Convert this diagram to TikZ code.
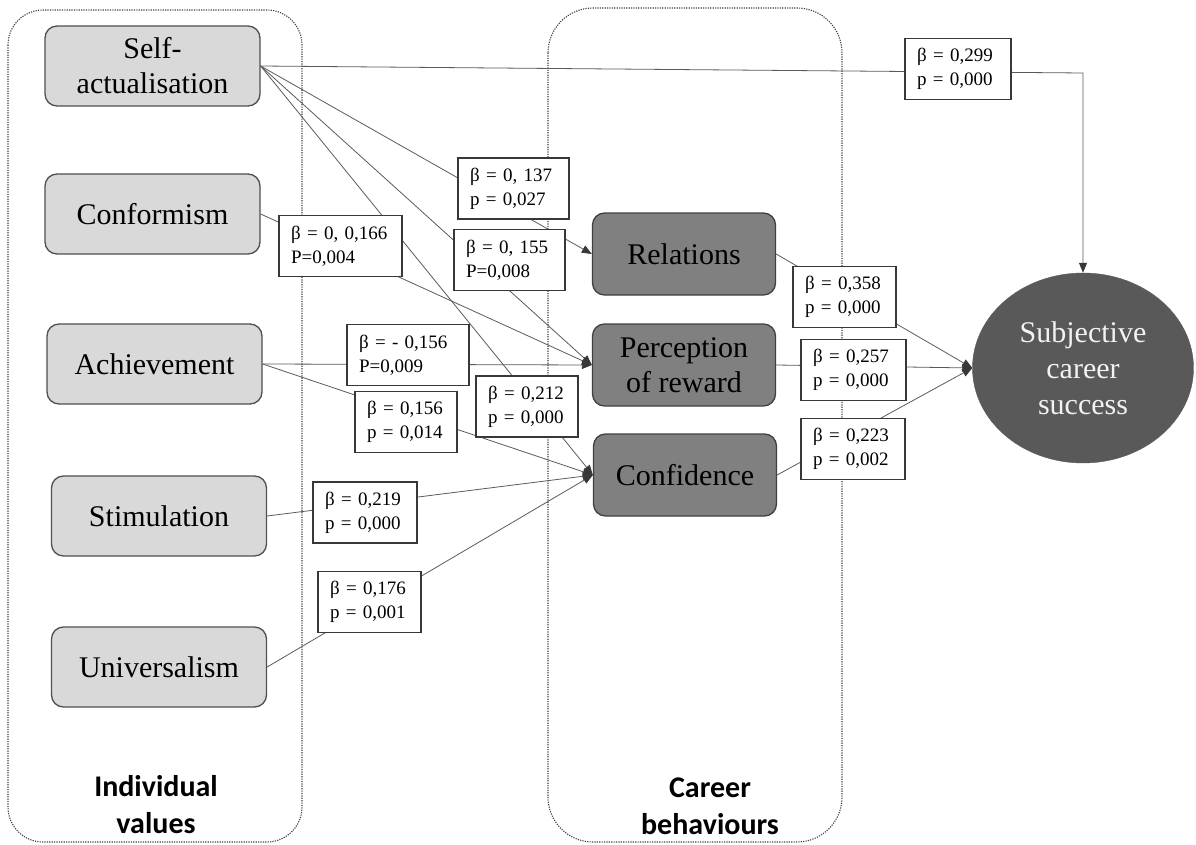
\documentclass[tikz,border=0pt]{standalone}
\usepackage{fontspec}
\setmainfont{Liberation Serif}
\newfontfamily\groupfont{Carlito}
\usetikzlibrary{arrows.meta,shapes.geometric}
\definecolor{valfill}{HTML}{D9D9D9}
\definecolor{behfill}{HTML}{808080}
\definecolor{outfill}{HTML}{595959}
\definecolor{edge}{HTML}{505050}
\definecolor{wire}{HTML}{5A5A5A}
\definecolor{tipcol}{HTML}{383838}
\definecolor{dotcol}{HTML}{404040}
\begin{document}
\begin{tikzpicture}[x=1pt,y=-1pt,
  valbox/.style={draw=edge, line width=1.3pt, fill=valfill, rounded corners=12pt,
    minimum width=215pt, minimum height=80pt, align=center, inner sep=0pt,
    font=\fontsize{30}{35}\selectfont},
  behbox/.style={valbox, fill=behfill, draw=edge!80!black, minimum width=183pt, minimum height=82pt},
  coef/.style={draw=edge!70!black, line width=1.1pt, fill=white, align=left,
    inner xsep=12pt, inner ysep=0pt, minimum height=61pt, font=\fontsize{19}{24}\selectfont},
  link/.style={draw=wire, line width=0.8pt},
  arr/.style={link, -{Triangle[length=10pt,width=8pt,color=tipcol]}},
  group/.style={draw=dotcol, line width=1.1pt, dash pattern=on 1.2pt off 1.2pt},
  grouplabel/.style={font=\groupfont\bfseries\fontsize{30}{37}\selectfont, align=center}
]
\useasboundingbox (0,0) rectangle (1196,845);

% dotted group frames
\draw[group, rounded corners=35pt] (8,10) rectangle (302,842);
\draw[group, rounded corners=45pt] (548,8) rectangle (842,842);

% individual values
\node[valbox] (sa) at (152.5,66) {Self-\\actualisation};
\node[valbox] (co) at (152.5,214) {Conformism};
\node[valbox] (ac) at (154.5,364) {Achievement};
\node[valbox] (st) at (159,516) {Stimulation};
\node[valbox] (un) at (159,667) {Universalism};

% career behaviours
\node[behbox] (rel) at (684,254) {Relations};
\node[behbox] (per) at (684,365) {Perception\\of reward};
\node[behbox] (con) at (685,475) {Confidence};

% outcome
\node[ellipse, fill=outfill, draw=outfill, minimum width=221pt, minimum height=190pt,
  text=white!95!black, align=center, inner sep=0pt, font=\fontsize{30}{36}\selectfont]
  (ell) at (1083,368) {Subjective\\career\\success};

\node[grouplabel] (ivl) at (156,805) {Individual\\values};
\node[grouplabel] (cbl) at (710,806) {Career\\behaviours};

\coordinate (c299) at (1083,73);

% paths
\draw[arr] (sa.east) -- (c299) -- (ell.north);
\draw[arr] (sa.east) -- (rel.west);
\draw[arr] (sa.east) -- (per.west);
\draw[arr] (sa.east) -- (con.west);
\draw[arr] (co.east) -- (per.west);
\draw[arr] (ac.east) -- (per.west);
\draw[arr] (ac.east) -- (con.west);
\draw[arr] (st.east) -- (con.west);
\draw[arr] (un.east) -- (con.west);
\draw[arr] (rel.east) -- (ell.west);
\draw[arr] (per.east) -- (ell.west);
\draw[arr] (con.east) -- (ell.west);

% coefficients
\node[coef, text width=82pt] (k299) at (958,69) {β = 0,299\\p = 0,000};
\node[coef, text width=87pt] (k137) at (513.5,188.5) {β = 0, 137\\p = 0,027};
\node[coef, text width=87pt] (k155) at (509.5,260) {β = 0, 155\\P=0,008};
\node[coef, text width=99pt] (k166) at (340.5,246) {β = 0, 0,166\\P=0,004};
\node[coef, text width=98pt] (km156) at (408,355) {β = - 0,156\\P=0,009};
\node[coef, text width=78pt] (k212) at (527,406.5) {β = 0,212\\p = 0,000};
\node[coef, text width=78pt] (k156) at (406,422) {β = 0,156\\p = 0,014};
\node[coef, text width=80pt] (k219) at (365,512.5) {β = 0,219\\p = 0,000};
\node[coef, text width=79pt] (k176) at (369.5,602) {β = 0,176\\p = 0,001};
\node[coef, text width=79pt] (k358) at (844.5,297) {β = 0,358\\p = 0,000};
\node[coef, text width=81pt] (k257) at (853.5,370) {β = 0,257\\p = 0,000};
\node[coef, text width=80pt] (k223) at (853,449) {β = 0,223\\p = 0,002};
\end{tikzpicture}
\end{document}
